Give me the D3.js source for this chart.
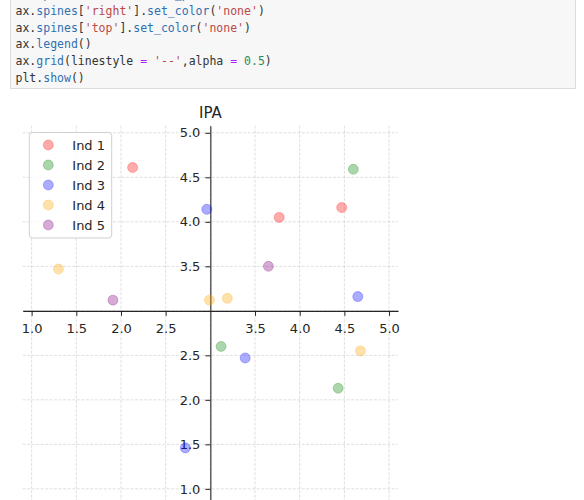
<!DOCTYPE html>
<html>
<head>
<meta charset="utf-8">
<script src="https://cdn.jsdelivr.net/npm/d3@7"></script>
<style>
  body { margin: 0; background: #fff; }
  .axis text { font-family: "DejaVu Sans", sans-serif; font-size: 13px; fill: #262626; }
  .axis path, .axis line { stroke: #262626; }
</style>
</head>
<body>
<svg id="chart" width="584" height="500"></svg>
<script>
// SVG Size
var width = 584,
    height = 500;

// code cell lines (token, kind)
var codeLines = [
    [["ax.", "n"], ["spines", "a"], ["[", "n"], ["'bottom'", "s"], ["].", "n"], ["set_position", "a"], ["((", "n"], ["'data'", "s"], [",", "n"], ["3", "d"], ["))", "n"]],
    [["ax.", "n"], ["spines", "a"], ["[", "n"], ["'right'", "s"], ["].", "n"], ["set_color", "a"], ["(", "n"], ["'none'", "s"], [")", "n"]],
    [["ax.", "n"], ["spines", "a"], ["[", "n"], ["'top'", "s"], ["].", "n"], ["set_color", "a"], ["(", "n"], ["'none'", "s"], [")", "n"]],
    [["ax.", "n"], ["legend", "a"], ["()", "n"]],
    [["ax.", "n"], ["grid", "a"], ["(linestyle ", "n"], ["=", "o"], [" ", "n"], ["'--'", "s"], [",alpha ", "n"], ["=", "o"], [" ", "n"], ["0.5", "d"], [")", "n"]],
    [["plt.", "n"], ["show", "a"], ["()", "n"]]
];
var tokenColors = { n: "#333333", a: "#2f6fb2", s: "#b94a48", o: "#aa22ff", d: "#2e8b57" };

// chart data
var chartTitle = "IPA";
var seriesNames = ["Ind 1", "Ind 2", "Ind 3", "Ind 4", "Ind 5"];
var seriesColors = ["red", "green", "blue", "orange", "purple"];

var ind1X = [2.13, 3.77, 4.47];
var ind1Y = [4.61, 4.05, 4.16];
var ind2X = [4.60, 3.12, 4.43];
var ind2Y = [4.59, 2.60, 2.13];
var ind3X = [2.96, 4.65, 3.39, 2.72];
var ind3Y = [4.14, 3.16, 2.47, 1.46];
var ind4X = [1.30, 2.99, 3.19, 4.68];
var ind4Y = [3.47, 3.12, 3.14, 2.55];
var ind5X = [1.91, 3.65];
var ind5Y = [3.12, 3.50];

var seriesX = [ind1X, ind2X, ind3X, ind4X, ind5X];
var seriesY = [ind1Y, ind2Y, ind3Y, ind4Y, ind5Y];

var xTickValues = [1.0, 1.5, 2.0, 2.5, 3.0, 3.5, 4.0, 4.5, 5.0];
var xTickLabels = ["1.0", "1.5", "2.0", "2.5", "", "3.5", "4.0", "4.5", "5.0"];
var yTickValues = [1.0, 1.5, 2.0, 2.5, 3.0, 3.5, 4.0, 4.5, 5.0];
var yTickLabels = ["1.0", "1.5", "2.0", "2.5", "", "3.5", "4.0", "4.5", "5.0"];

var svg = d3.select("#chart");

// ---- code cell ----
svg.append("rect")
    .attr("x", 10.5).attr("y", -10.5)
    .attr("width", 565).attr("height", 99)
    .attr("fill", "#f7f7f7")
    .attr("stroke", "#dcdcdc");

var codeText = svg.append("g")
    .attr("font-family", "'DejaVu Sans Mono', monospace")
    .attr("font-size", "11.5px");

codeLines.forEach(function(line, i) {
    var t = codeText.append("text")
        .attr("x", 15.5)
        .attr("y", -1.7 + i * 16.7)
        .attr("xml:space", "preserve");
    line.forEach(function(tok) {
        t.append("tspan").attr("fill", tokenColors[tok[1]]).text(tok[0]);
    });
});

// ---- scatter ----
var plotLeft = 22.7, plotRight = 398, plotTop = 125.7, plotBottom = 502.2;

var xScale = d3.scaleLinear().domain([0.9, 5.1]).range([plotLeft, plotRight]);
var yScale = d3.scaleLinear().domain([0.85, 5.08]).range([plotBottom, plotTop]);

// grid
var grid = svg.append("g")
    .attr("stroke", "#b0b0b0")
    .attr("stroke-opacity", 0.5)
    .attr("stroke-width", 0.8)
    .attr("stroke-dasharray", "3,1.5");

grid.selectAll(".gx").data(xTickValues).enter().append("line")
    .attr("x1", d => xScale(d)).attr("x2", d => xScale(d))
    .attr("y1", plotTop).attr("y2", plotBottom);

grid.selectAll(".gy").data(yTickValues).enter().append("line")
    .attr("y1", d => yScale(d)).attr("y2", d => yScale(d))
    .attr("x1", plotLeft).attr("x2", plotRight);

// axes through (3, 3)
var xAxis = d3.axisBottom(xScale)
    .tickValues(xTickValues.filter(d => d !== 3))
    .tickFormat(d => xTickLabels[xTickValues.indexOf(d)])
    .tickSizeInner(5).tickSizeOuter(0)
    .tickPadding(7.5);

var yAxis = d3.axisLeft(yScale)
    .tickValues(yTickValues.filter(d => d !== 3))
    .tickFormat(d => yTickLabels[yTickValues.indexOf(d)])
    .tickSizeInner(5).tickSizeOuter(0)
    .tickPadding(5);

var gx = svg.append("g")
    .attr("class", "axis x-axis")
    .attr("transform", "translate(0," + yScale(3) + ")")
    .call(xAxis);

var gy = svg.append("g")
    .attr("class", "axis y-axis")
    .attr("transform", "translate(" + xScale(3) + ",0)")
    .call(yAxis);

gx.select(".domain").attr("stroke-width", 1.1);
gy.select(".domain").attr("stroke-width", 1.1);

// points
seriesNames.forEach(function(name, k) {
    var pts = seriesX[k].map(function(x, j) { return [x, seriesY[k][j]]; });
    svg.append("g").selectAll("circle")
        .data(pts)
        .enter()
        .append("circle")
        .attr("cx", d => xScale(d[0]))
        .attr("cy", d => yScale(d[1]))
        .attr("r", 5)
        .attr("fill", seriesColors[k])
        .attr("fill-opacity", 0.33)
        .attr("stroke", seriesColors[k])
        .attr("stroke-opacity", 0.25)
        .attr("stroke-width", 1);
});

// title
svg.append("text")
    .attr("x", (plotLeft + plotRight) / 2)
    .attr("y", 117.5)
    .attr("text-anchor", "middle")
    .attr("font-family", "'DejaVu Sans', sans-serif")
    .attr("font-size", "15px")
    .attr("fill", "#262626")
    .text(chartTitle);

// legend
var legend = svg.append("g");
legend.append("rect")
    .attr("x", 29.3).attr("y", 132.5)
    .attr("width", 82.4).attr("height", 105.5)
    .attr("rx", 3)
    .attr("fill", "#fff").attr("fill-opacity", 0.8)
    .attr("stroke", "#d0d0d0");

var rows = legend.selectAll(".row")
    .data(seriesNames)
    .enter()
    .append("g")
    .attr("transform", (d, i) => "translate(0," + (145 + i * 20) + ")");

rows.append("circle")
    .attr("cx", 48.3).attr("cy", 0).attr("r", 5)
    .attr("fill", (d, i) => seriesColors[i])
    .attr("fill-opacity", 0.33)
    .attr("stroke", (d, i) => seriesColors[i])
    .attr("stroke-opacity", 0.25);

rows.append("text")
    .attr("x", 72.3).attr("y", 4.5)
    .attr("font-family", "'DejaVu Sans', sans-serif")
    .attr("font-size", "13px")
    .attr("fill", "#262626")
    .text(d => d);
</script>
</body>
</html>
